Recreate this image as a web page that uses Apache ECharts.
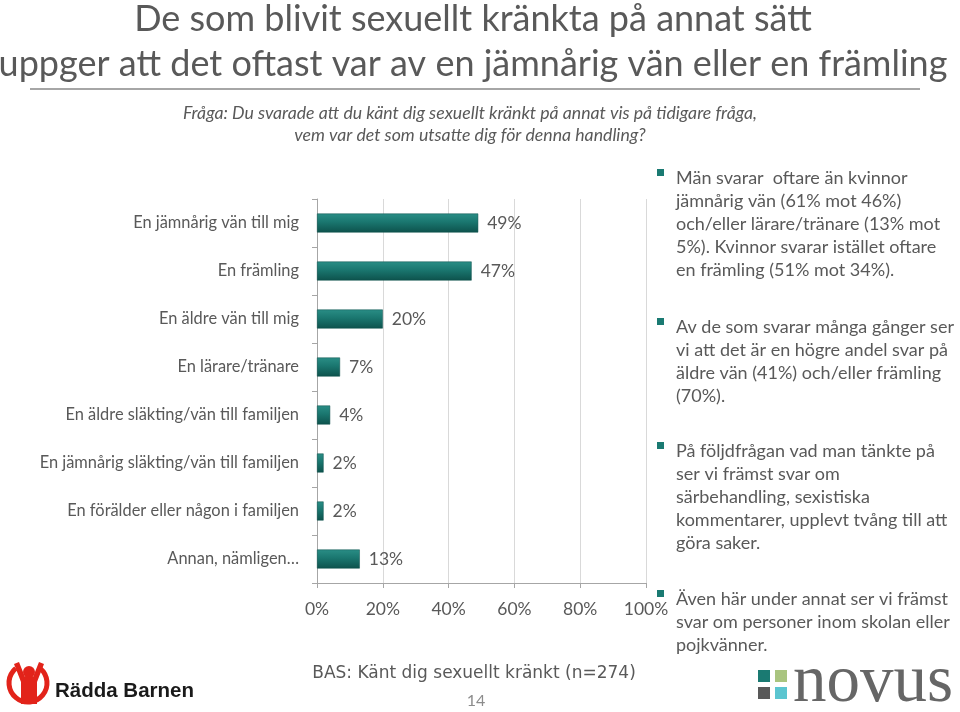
<!DOCTYPE html>
<html><head><meta charset="utf-8">
<script src="https://cdn.jsdelivr.net/npm/echarts@6/dist/echarts.min.js"></script>
<style>html,body{margin:0;padding:0;background:#fff}#c{width:960px;height:712px}</style>
</head><body><div id="c"></div>
<script>
var categories = ["En jämnårig vän till mig","En främling","En äldre vän till mig","En lärare/tränare","En äldre släkting/vän till familjen","En jämnårig släkting/vän till familjen","En förälder eller någon i familjen","Annan, nämligen…"];
var values = [49,47,20,7,4,2,2,13];
var xTicks = [0,20,40,60,80,100];
var titleLines = ["De som blivit sexuellt kränkta på annat sätt","uppger att det oftast var av en jämnårig vän eller en främling"];
var questionLines = ["Fråga: Du svarade att du känt dig sexuellt kränkt på annat vis på tidigare fråga,","vem var det som utsatte dig för denna handling?"];
var bullets = [
 ["Män svarar  oftare än kvinnor","jämnårig vän (61% mot 46%)","och/eller lärare/tränare (13% mot","5%). Kvinnor svarar istället oftare","en främling (51% mot 34%)."],
 ["Av de som svarar många gånger ser","vi att det är en högre andel svar på","äldre vän (41%) och/eller främling","(70%)."],
 ["På följdfrågan vad man tänkte på","ser vi främst svar om","särbehandling, sexistiska","kommentarer, upplevt tvång till att","göra saker."],
 ["Även här under annat ser vi främst","svar om personer inom skolan eller","pojkvänner."]
];
var bulletTops = [178,327,451,599];
var baseText = "BAS: Känt dig sexuellt kränkt (n=274)";
var pageNo = "14";

var F = "Lato, 'Open Sans', sans-serif";
var gray = "#595959";
var chart = echarts.init(document.getElementById('c'));
var g = [];
g.push({type:'text',style:{text:titleLines[0],x:473,y:19,font:"36px "+F,fill:gray,textAlign:'center',textVerticalAlign:'middle'}});
g.push({type:'text',style:{text:titleLines[1],x:473,y:64,font:"36px "+F,fill:gray,textAlign:'center',textVerticalAlign:'middle'}});
g.push({type:'line',shape:{x1:30,y1:89,x2:920,y2:89},style:{stroke:'#a6a6a6',lineWidth:2}});
questionLines.forEach(function(t,i){
  g.push({type:'text',style:{text:t,x:470,y:113+i*22,font:"italic 17.7px "+F,fill:gray,textAlign:'center',textVerticalAlign:'middle'}});
});
bullets.forEach(function(lines,b){
  g.push({type:'rect',shape:{x:657,y:bulletTops[b]-9,width:7,height:7},style:{fill:'#1a7a72'}});
  lines.forEach(function(t,i){
    g.push({type:'text',style:{text:t,x:676,y:bulletTops[b]+i*23,font:"18px "+F,fill:gray,textVerticalAlign:'middle'}});
  });
});
g.push({type:'text',style:{text:baseText,x:474,y:674,font:"17px 'DejaVu Sans', Verdana, sans-serif",fill:gray,textAlign:'center',textVerticalAlign:'middle'}});
g.push({type:'text',style:{text:pageNo,x:476,y:701,font:"16px "+F,fill:'#8c8c8c',textAlign:'center',textVerticalAlign:'middle'}});
// Rädda Barnen logo
g.push({type:'arc',shape:{cx:28,cy:683,r:19,startAngle:-Math.PI*0.28,endAngle:Math.PI*1.28,clockwise:true},style:{stroke:'#e2231a',lineWidth:5,fill:null}});
g.push({type:'circle',shape:{cx:29,cy:672,r:6},style:{fill:'#e2231a'}});
g.push({type:'polygon',shape:{points:[[14,664],[19,662],[25,677],[33,677],[39,662],[44,664],[37,682],[37,704],[21,704],[21,682]]},style:{fill:'#e2231a'}});
g.push({type:'text',style:{text:"Rädda Barnen",x:55,y:691,font:"bold 20.5px 'Liberation Sans', Arial, sans-serif",fill:'#1a1a1a',textVerticalAlign:'middle'}});
// Novus logo
g.push({type:'rect',shape:{x:758,y:670,width:12,height:12},style:{fill:'#1a7a72'}});
g.push({type:'rect',shape:{x:775,y:670,width:12,height:12},style:{fill:'#a9c47f'}});
g.push({type:'rect',shape:{x:758,y:687,width:12,height:12},style:{fill:'#595959'}});
g.push({type:'rect',shape:{x:775,y:687,width:12,height:12},style:{fill:'#5bc5d0'}});
g.push({type:'text',style:{text:"novus",x:793,y:683,font:"67px 'Liberation Serif', 'DejaVu Serif', serif",fill:'#666666',textVerticalAlign:'middle'}});

chart.setOption({
  animation:false,
  grid:{left:317,right:314,top:199,bottom:129,containLabel:false},
  xAxis:{type:'value',min:0,max:100,interval:20,
    axisLine:{show:true,lineStyle:{color:'#a6a6a6'}},
    axisTick:{show:true,length:5,lineStyle:{color:'#a6a6a6'}},
    axisLabel:{formatter:'{value}%',fontFamily:F,fontSize:17.5,color:gray,margin:17},
    splitLine:{show:true,lineStyle:{color:'#d9d9d9'}}},
  yAxis:{type:'category',data:categories,inverse:true,
    axisLine:{show:true,lineStyle:{color:'#a6a6a6'}},
    axisTick:{show:true,length:5,alignWithLabel:false,lineStyle:{color:'#a6a6a6'}},
    axisLabel:{fontFamily:F,fontSize:16.4,color:gray,margin:18}},
  series:[{type:'bar',data:values,barWidth:19,
    itemStyle:{color:new echarts.graphic.LinearGradient(0,0,0,1,[{offset:0,color:'#2a8e86'},{offset:0.45,color:'#1a766f'},{offset:1,color:'#0d524c'}]),borderColor:'#0d4f4a',borderWidth:0.5},
    label:{show:true,position:'right',distance:9,formatter:'{c}%',fontFamily:F,fontSize:17.5,color:gray}}],
  graphic:g
});
</script></body></html>
